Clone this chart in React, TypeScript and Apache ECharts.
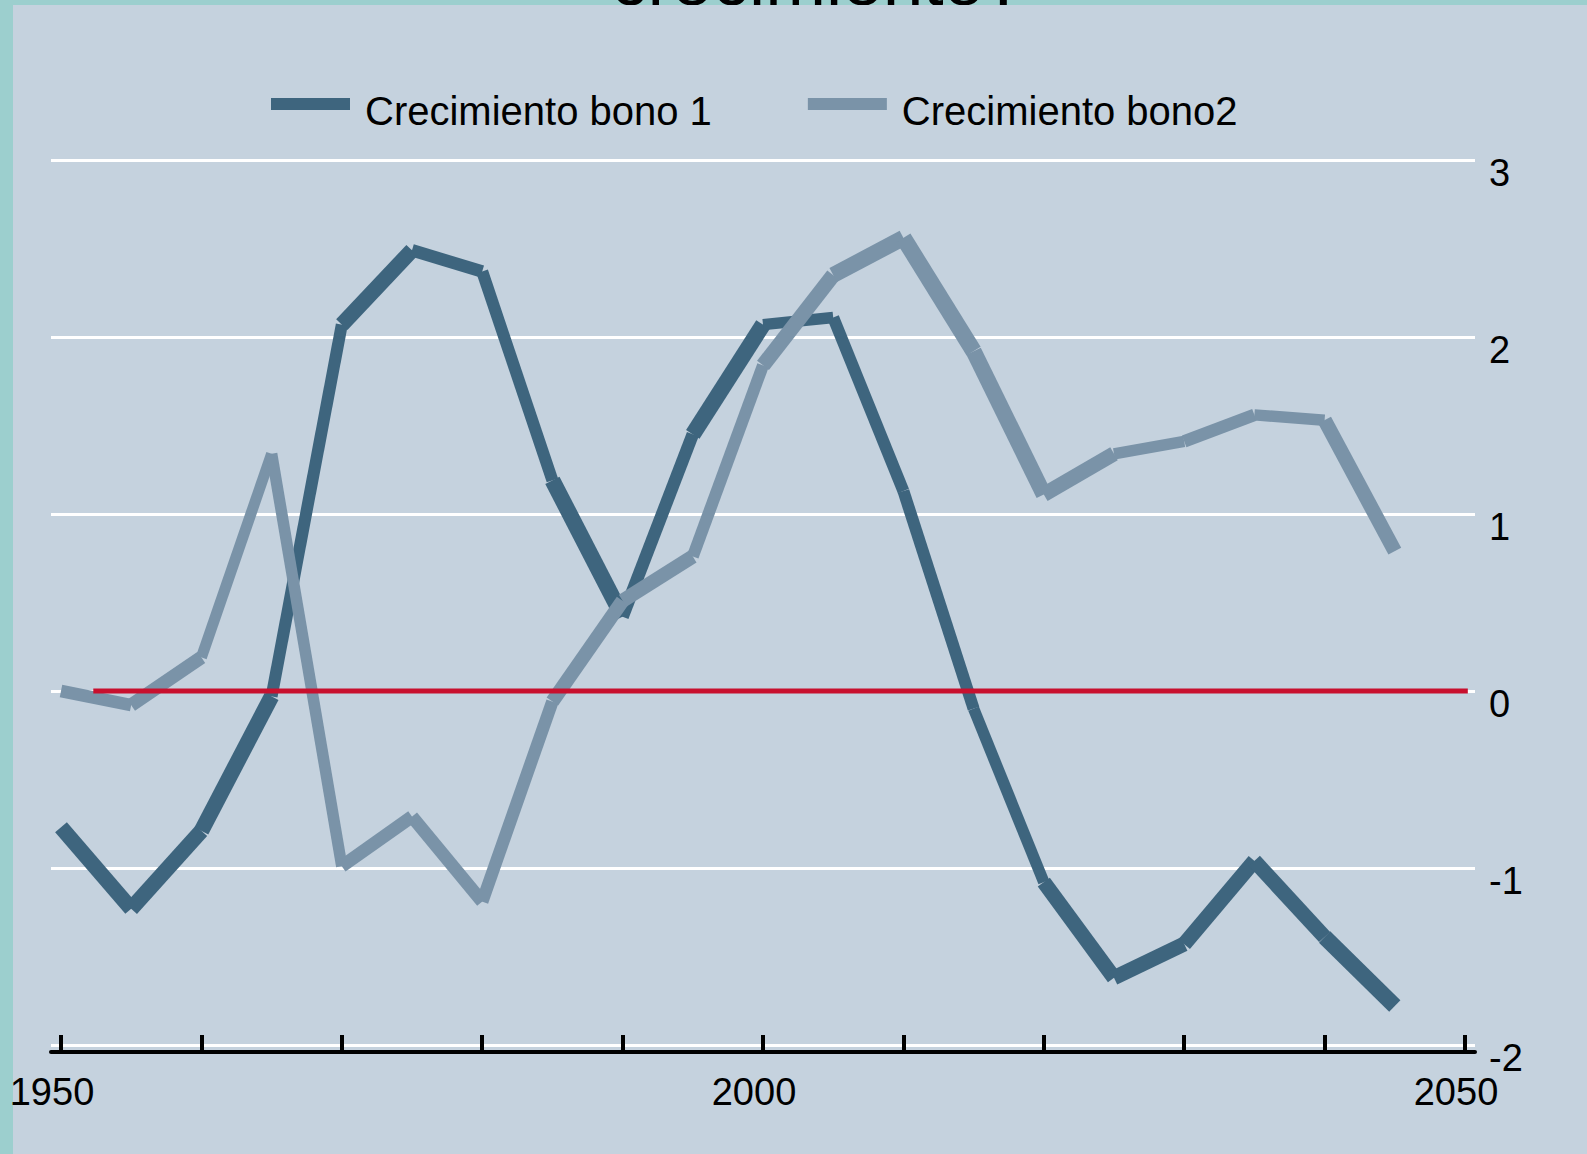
import React, { useEffect, useRef } from "react";
import * as echarts from "echarts";

const years = [1950, 1955, 1960, 1965, 1970, 1975, 1980, 1985, 1990, 1995, 2000, 2005, 2010, 2015, 2020, 2025, 2030, 2035, 2040, 2045];
const bono1 = [-0.77, -1.23, -0.79, -0.03, 2.07, 2.49, 2.37, 1.19, 0.42, 1.45, 2.07, 2.11, 1.13, -0.1, -1.08, -1.62, -1.43, -0.96, -1.39, -1.78];
const bono2 = [0.0, -0.08, 0.19, 1.34, -0.99, -0.71, -1.19, -0.06, 0.51, 0.76, 1.84, 2.35, 2.56, 1.92, 1.11, 1.34, 1.41, 1.56, 1.53, 0.79];
// stroke width of each segment (style, not data)
const widths1 = [15.5, 15.5, 15.5, 12, 15.5, 12.5, 12, 16, 12.5, 16, 11.5, 12, 12, 11.5, 15, 15, 15, 15, 16];
const widths2 = [12.5, 13.5, 11, 11.5, 13, 13, 12.5, 14, 14, 12, 15, 16, 16.5, 16, 15, 11.5, 12.5, 11.5, 14.5];
const zeroLineYears = [1952.3, 2050.2];
const zeroLineValues = [0, 0];
const seriesNames = ["Crecimiento bono 1", "Crecimiento bono2"];
const yTicks = { min: -2, max: 3, interval: 1 };
const xTicks = { min: 1950, max: 2050, interval: 10, labelEvery: 50 };
const titleText = "crecimiento?";

const FONT = "'Liberation Sans', Arial, Helvetica, sans-serif";
const C1 = "#3e657e";
const C2 = "#7a93a8";
const RED = "#c8102e";
// legend swatch: 79x12 bar sitting slightly above the text centre
const LEGEND_ICON = "path://M0,0H79V12H0Z M0,26L0.01,26";

function segSeries(name: string, vals: number[], widths: number[], color: string) {
  return {
    type: "custom",
    name,
    xAxisIndex: 1,
    yAxisIndex: 1,
    itemStyle: { color },
    encode: { x: 0, y: 1 },
    data: years.map((y, i) => [y, vals[i]]),
    renderItem: (params: any, api: any) => {
      const i = params.dataIndex;
      if (i >= years.length - 1) return { type: "group", children: [] };
      const p0 = api.coord([years[i], vals[i]]);
      const p1 = api.coord([years[i + 1], vals[i + 1]]);
      return {
        type: "line",
        shape: { x1: p0[0], y1: p0[1], x2: p1[0], y2: p1[1] },
        style: { stroke: color, lineWidth: widths[i], lineCap: "butt", fill: null },
      };
    },
    z: 3,
  };
}

export default function App() {
  const ref = useRef<HTMLDivElement>(null);
  useEffect(() => {
    if (!ref.current) return;
    const chart = echarts.init(ref.current, undefined, { renderer: "svg" });
    const option: any = {
      animation: false,
      backgroundColor: "#9ccfce",
      color: [C1, C2],
      title: {
        text: titleText,
        left: 611,
        top: -57,
        padding: 0,
        z: -2,
        textStyle: { fontFamily: FONT, fontSize: 73, fontWeight: "normal", color: "#000" },
      },
      graphic: [
        {
          type: "rect",
          silent: true,
          z: -1,
          shape: { x: 13, y: 5, width: 1574, height: 1149 },
          style: { fill: "#c5d2de" },
        },
      ],
      legend: {
        left: 271,
        top: 91,
        itemWidth: 79,
        itemHeight: 26,
        itemGap: 96,
        selectedMode: false,
        padding: 0,
        data: [
          { name: seriesNames[0], icon: LEGEND_ICON, itemStyle: { color: C1 } },
          { name: seriesNames[1], icon: LEGEND_ICON, itemStyle: { color: C2 } },
        ],
        textStyle: { fontFamily: FONT, fontSize: 40, color: "#000", padding: [0, 0, 0, 10] },
      },
      grid: [
        { left: 51, right: 112, top: 160, bottom: 109 },
        { left: 61, right: 122, top: 160, bottom: 109 },
      ],
      xAxis: [
        {
          type: "value",
          gridIndex: 0,
          min: 0,
          max: 1,
          offset: 7,
          axisLine: { show: true, onZero: false, lineStyle: { color: "#000", width: 4 } },
          axisTick: { show: false },
          axisLabel: { show: false },
          splitLine: { show: false },
        },
        {
          type: "value",
          gridIndex: 1,
          min: xTicks.min,
          max: xTicks.max,
          interval: xTicks.interval,
          offset: 7,
          axisLine: { show: false, onZero: false },
          axisTick: { show: true, inside: true, length: 17, lineStyle: { color: "#000", width: 4 } },
          axisLabel: {
            formatter: (v: number) => (v % xTicks.labelEvery === 0 ? String(v) : ""),
            margin: 21,
            fontFamily: FONT,
            fontSize: 38,
            color: "#000",
            padding: [0, 18, 0, 0],
          },
          splitLine: { show: false },
        },
      ],
      yAxis: [
        {
          type: "value",
          gridIndex: 0,
          position: "right",
          min: yTicks.min,
          max: yTicks.max,
          interval: yTicks.interval,
          axisLine: { show: false },
          axisTick: { show: false },
          splitLine: { show: true, lineStyle: { color: "#ffffff", width: 3 } },
          axisLabel: {
            margin: 14,
            fontFamily: FONT,
            fontSize: 38,
            color: "#000",
            verticalAlign: "top",
            lineHeight: 25,
          },
        },
        {
          type: "value",
          gridIndex: 1,
          show: false,
          min: yTicks.min,
          max: yTicks.max,
          interval: yTicks.interval,
          splitLine: { show: false },
        },
      ],
      series: [
        segSeries(seriesNames[0], bono1, widths1, C1),
        segSeries(seriesNames[1], bono2, widths2, C2),
        {
          type: "line",
          name: "cero",
          xAxisIndex: 1,
          yAxisIndex: 1,
          clip: false,
          symbol: "none",
          silent: true,
          z: 5,
          lineStyle: { color: RED, width: 5 },
          data: zeroLineYears.map((y, i) => [y, zeroLineValues[i]]),
        },
      ],
    };
    chart.setOption(option);
    return () => chart.dispose();
  }, []);
  return (
    <div
      ref={ref}
      style={{ position: "absolute", left: 0, top: 0, width: 1587, height: 1154 }}
    />
  );
}
